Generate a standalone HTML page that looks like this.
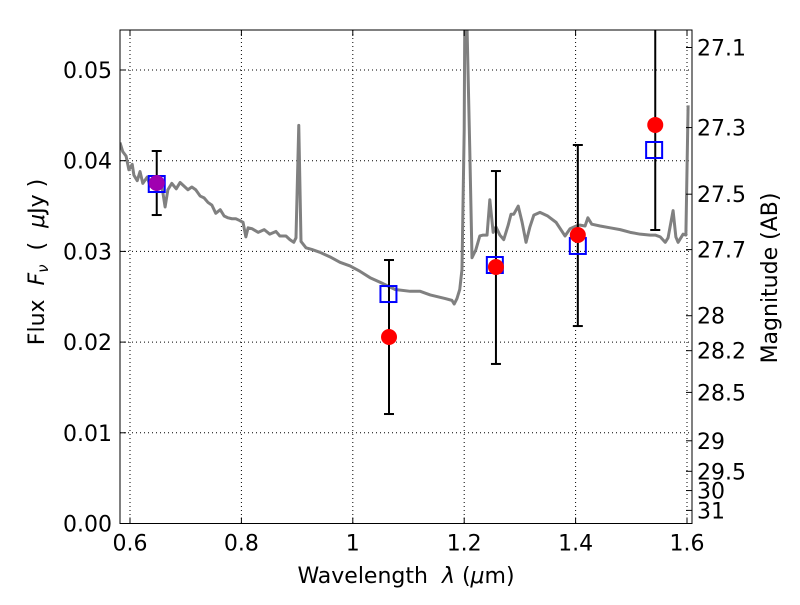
<!DOCTYPE html>
<html><head><meta charset="utf-8"><style>
body{margin:0;background:#fff}
svg text{font-family:"DejaVu Sans","Liberation Sans",sans-serif;fill:#000;white-space:pre}
</style></head><body>
<svg id="chart" width="800" height="600" viewBox="0 0 800 600" xmlns="http://www.w3.org/2000/svg"></svg>
<script>
const specLam=[0.582,0.587,0.593,0.598,0.604,0.607,0.613,0.618,0.623,0.631,0.636,0.643,0.650,0.657,0.663,0.668,0.675,0.683,0.690,0.697,0.704,0.711,0.718,0.726,0.733,0.740,0.747,0.754,0.762,0.769,0.776,0.783,0.790,0.797,0.803,0.808,0.812,0.819,0.830,0.841,0.851,0.862,0.869,0.880,0.887,0.894,0.898,0.903,0.907,0.916,0.927,0.941,0.959,0.977,0.995,1.013,1.031,1.049,1.076,1.103,1.121,1.139,1.166,1.178,1.182,1.187,1.192,1.196,1.200,1.201,1.205,1.210,1.214,1.221,1.228,1.234,1.241,1.246,1.252,1.257,1.264,1.271,1.279,1.284,1.289,1.297,1.304,1.311,1.318,1.325,1.336,1.350,1.365,1.381,1.390,1.401,1.408,1.417,1.422,1.429,1.444,1.462,1.480,1.498,1.516,1.534,1.543,1.552,1.561,1.566,1.575,1.580,1.584,1.593,1.598,1.602];
const specFlux=[.0420,.0410,.0405,.0390,.0396,.0384,.0378,.0388,.0375,.0382,.0372,.0381,.0375,.0373,.0349,.0368,.0375,.0369,.0376,.0372,.0368,.0371,.0368,.0361,.0359,.0354,.0351,.0342,.0346,.0339,.0337,.0336,.0336,.0334,.0332,.0316,.0326,.0325,.0321,.0324,.0319,.0322,.0317,.0317,.0313,.0310,.0315,.0439,.0311,.0304,.0302,.0299,.0294,.0288,.0284,.0278,.0271,.0266,.0258,.0256,.0256,.0252,.0248,.0246,.0242,.0248,.0258,.0280,.0434,.0550,.0550,.0412,.0293,.0302,.0317,.0318,.0318,.0357,.0321,.0327,.0318,.0313,.0329,.0341,.0341,.0350,.0332,.0310,.0327,.0340,.0343,.0339,.0332,.0317,.0325,.0328,.0329,.0328,.0337,.0330,.0328,.0326,.0324,.0321,.0319,.0318,.0318,.0316,.0310,.0315,.0345,.0316,.0310,.0319,.0318,.0461];
const obsLam=[0.648,1.065,1.257,1.404,1.543];
const obsFlux=[0.03754,0.02056,0.02828,0.03181,0.04394];
const errLow=[0.03401,0.01207,0.01759,0.02177,0.03236];
const errHigh=[0.04107,0.02905,0.03886,0.04173,0.0555];
const modelLam=[0.648,1.064,1.255,1.404,1.541];
const modelFlux=[0.03743,0.02530,0.02850,0.03060,0.04118];
const xTicks=[0.6,0.8,1.0,1.2,1.4,1.6];
const xTickLabels=["0.6","0.8","1","1.2","1.4","1.6"];
const yTicks=[0,0.01,0.02,0.03,0.04,0.05];
const yTickLabels=["0.00","0.01","0.02","0.03","0.04","0.05"];
const magTicks=[27.1,27.3,27.5,27.7,28,28.2,28.5,29,29.5,30,31];
const magTickLabels=["27.1","27.3","27.5","27.7","28","28.2","28.5","29","29.5","30","31"];

const L=120,R=692,T=30,B=523.5;
const X=v=>130+(v-0.6)*557;
const Y=v=>523.5-v*9070;
const NS="http://www.w3.org/2000/svg";
const svg=document.getElementById('chart');
function mk(tag,attrs,parent){const e=document.createElementNS(NS,tag);for(const k in attrs)e.setAttribute(k,attrs[k]);(parent||svg).appendChild(e);return e;}

const defs=mk('defs',{});
const cp=mk('clipPath',{id:'clip'},defs);
mk('rect',{x:L,y:T,width:R-L,height:B-T},cp);

const grid=mk('g',{});


xTicks.forEach(t=>{mk('line',{x1:X(t),x2:X(t),y1:T,y2:B,stroke:'#000','stroke-width':1,'stroke-dasharray':'1,3'},grid);});
yTicks.forEach(t=>{mk('line',{x1:L,x2:R,y1:Y(t),y2:Y(t),stroke:'#000','stroke-width':1,'stroke-dasharray':'1,3'},grid);});

const plot=mk('g',{'clip-path':'url(#clip)'});
const sp=mk('polyline',{points:specLam.map((l,i)=>X(l)+','+Y(specFlux[i])).join(' '),fill:'none',stroke:'#808080','stroke-width':3,'stroke-linejoin':'round'},plot);



obsLam.forEach((l,i)=>{
  const g=mk('g',{},plot);
  
  
  const x=X(l);
  mk('line',{x1:x,x2:x,y1:Y(errLow[i]),y2:Y(errHigh[i]),stroke:'#000','stroke-width':2},g);
  mk('line',{x1:x-5,x2:x+5,y1:Y(errLow[i]),y2:Y(errLow[i]),stroke:'#000','stroke-width':2},g);
  mk('line',{x1:x-5,x2:x+5,y1:Y(errHigh[i]),y2:Y(errHigh[i]),stroke:'#000','stroke-width':2},g);
});
modelLam.forEach((l,i)=>{
  const r=mk('rect',{x:X(l)-8,y:Y(modelFlux[i])-8,width:16,height:16,fill:'none',stroke:'#0000ff','stroke-width':2},plot);
  
  
});
obsLam.forEach((l,i)=>{
  const c=mk('circle',{cx:X(l),cy:Y(obsFlux[i]),r:8,fill:i===0?'#a000b0':'#ff0000'},plot);
  
  
});

const fr=mk('rect',{x:L,y:T,width:R-L,height:B-T,fill:'none',stroke:'#000','stroke-width':1});



const FS=22;
xTicks.forEach((t,i)=>{
  mk('line',{x1:X(t),x2:X(t),y1:B,y2:B-6,stroke:'#000'});
  mk('line',{x1:X(t),x2:X(t),y1:T,y2:T+6,stroke:'#000'});
  const tx=mk('text',{x:X(t),y:B+27,'font-size':FS,'text-anchor':'middle'});
  tx.textContent=xTickLabels[i];
  
  
});
yTicks.forEach((t,i)=>{
  mk('line',{x1:L,x2:L+6,y1:Y(t),y2:Y(t),stroke:'#000'});
  const tx=mk('text',{x:L-8,y:Y(t)+8,'font-size':FS,'text-anchor':'end'});
  tx.textContent=yTickLabels[i];
  
  
});
magTicks.forEach((m,i)=>{
  const y=Y(Math.pow(10,(23.9-m)/2.5));
  mk('line',{x1:R,x2:R-6,y1:y,y2:y,stroke:'#000'});
  const tx=mk('text',{x:R+5,y:y+8,'font-size':FS,'text-anchor':'start'});
  tx.textContent=magTickLabels[i];
  
  
});
const xt=mk('text',{x:406,y:583,'font-size':FS,'text-anchor':'middle'});
xt.innerHTML='Wavelength  <tspan font-style="italic">λ</tspan> (<tspan font-style="italic">μ</tspan>m)';


const yt=mk('text',{x:0,y:0,'font-size':FS,'text-anchor':'middle',transform:'translate(44,262) rotate(-90)'});
yt.innerHTML='Flux  <tspan font-style="italic">F</tspan><tspan font-style="italic" font-size="15" dy="4">ν</tspan><tspan dy="-4">  (  </tspan><tspan font-style="italic">μ</tspan>Jy )';


const rt=mk('text',{x:0,y:0,'font-size':FS,'text-anchor':'middle',transform:'translate(777,278) rotate(-90)'});
rt.textContent='Magnitude (AB)';


</script>
</body></html>
